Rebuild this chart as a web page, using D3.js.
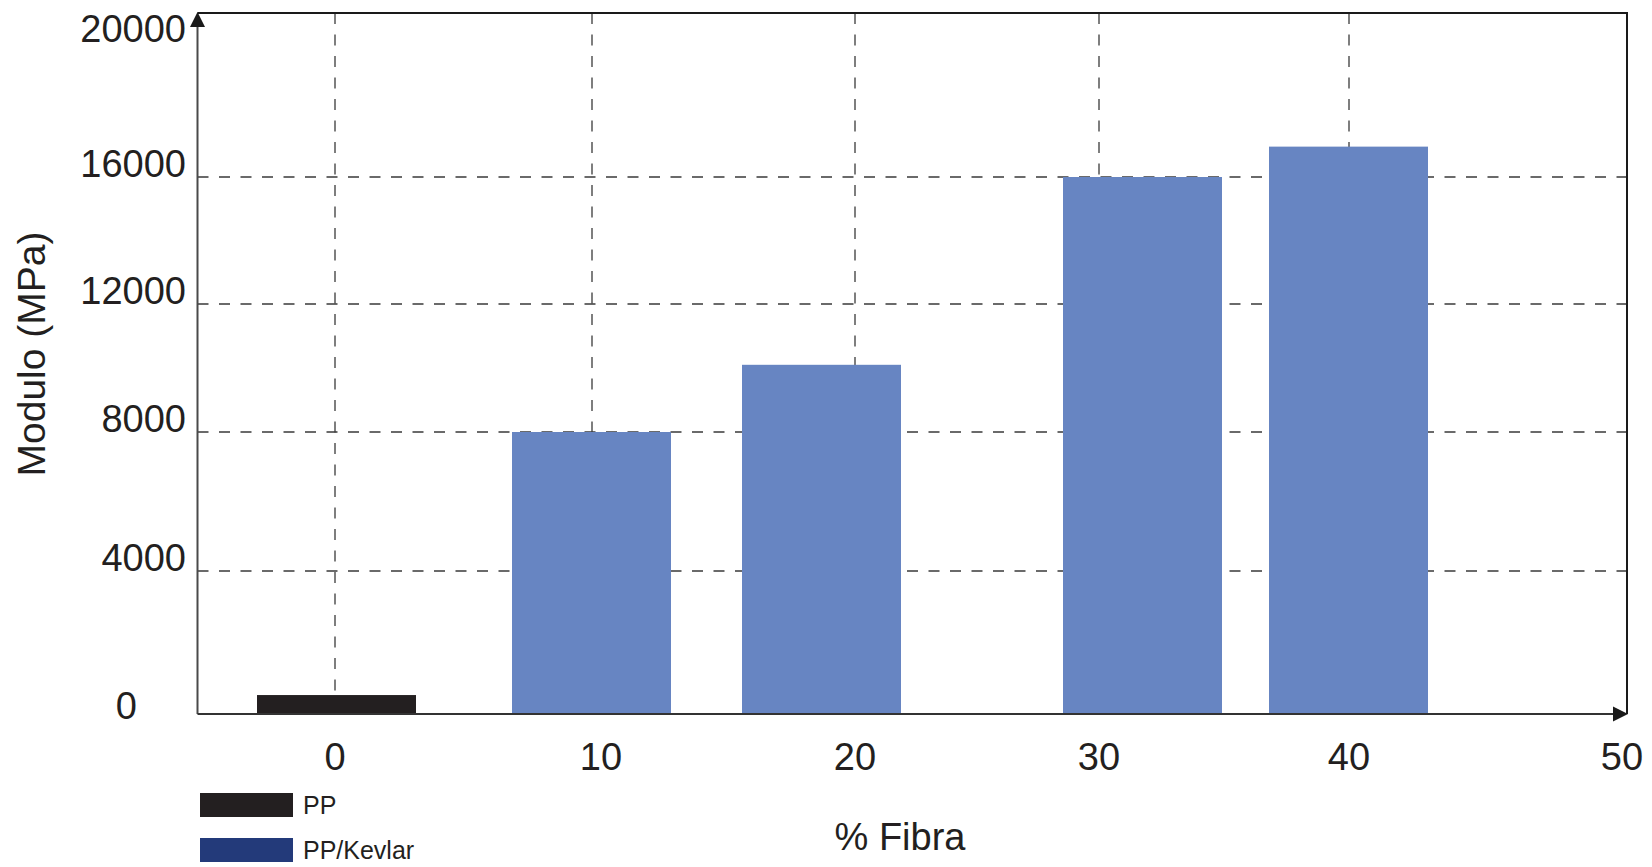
<!DOCTYPE html>
<html>
<head>
<meta charset="utf-8">
<script src="https://cdn.jsdelivr.net/npm/d3@7"></script>
<style>
  html, body { margin: 0; padding: 0; background: #fff; }
  svg { display: block; font-family: "Liberation Sans", Arial, sans-serif; }
</style>
</head>
<body>
<svg id="chart" width="1652" height="867"></svg>
<script>
// ---- data ----
const fibra = [0, 10, 20, 30, 40];
const barSeries = ["PP", "PP/Kevlar", "PP/Kevlar", "PP/Kevlar", "PP/Kevlar"];
const modulo = [530, 8000, 10100, 16000, 16900];
const xTicks = [0, 10, 20, 30, 40, 50];
const yTicks = [0, 4000, 8000, 12000, 16000, 20000];
const legendLabels = ["PP", "PP/Kevlar"];
const xTitle = "% Fibra";
const yTitle = "Modulo (MPa)";

// ---- styles / layout ----
const barColor = { "PP": "#231f20", "PP/Kevlar": "#6785c2" };
const legendColor = { "PP": "#231f20", "PP/Kevlar": "#233a7a" };
const textColor = "#231f20";
const plotL = 197.5, plotR = 1627, plotT = 13, plotB = 714;
const barWidth = 159;

const svg = d3.select("#chart");
svg.append("rect").attr("width", 1652).attr("height", 867).attr("fill", "#fff");

// scales (hand-drawn source: non-uniform spacing)
const y = d3.scaleLinear().domain(yTicks).range([714, 571, 432, 304, 177, 42]);
const xAxis = d3.scaleLinear().domain(xTicks).range([335, 592, 855, 1099, 1349, 1622]);
const xBar = d3.scaleLinear().domain(fibra).range([336.5, 591.5, 821.5, 1142.5, 1348.5]);

const dash = "11,10.5";
// horizontal gridlines
svg.append("g").selectAll("line")
  .data(yTicks.filter(t => t > 0 && t < 20000))
  .join("line")
  .attr("x1", plotL).attr("x2", plotR)
  .attr("y1", d => y(d)).attr("y2", d => y(d))
  .attr("stroke", "#3a3a3a").attr("stroke-width", 1.3)
  .attr("stroke-dasharray", dash);
// vertical gridlines
svg.append("g").selectAll("line")
  .data(xTicks.filter(t => t < 50))
  .join("line")
  .attr("x1", d => xAxis(d)).attr("x2", d => xAxis(d))
  .attr("y1", plotT).attr("y2", plotB)
  .attr("stroke", "#3a3a3a").attr("stroke-width", 1.3)
  .attr("stroke-dasharray", dash);

// bars
const bars = fibra.map((f, i) => ({ f, v: modulo[i], s: barSeries[i] }));
svg.append("g").selectAll("rect")
  .data(bars)
  .join("rect")
  .attr("x", d => xBar(d.f) - barWidth / 2)
  .attr("width", barWidth)
  .attr("y", d => y(d.v))
  .attr("height", d => y(0) - y(d.v))
  .attr("fill", d => barColor[d.s]);

// frame: top and right borders
svg.append("path")
  .attr("d", `M${plotL},${plotT}H${plotR}V${plotB}`)
  .attr("fill", "none").attr("stroke", "#1a1a1a").attr("stroke-width", 2);
// left axis
svg.append("line").attr("x1", plotL).attr("x2", plotL).attr("y1", plotT + 10).attr("y2", plotB)
  .attr("stroke", "#4a4a4a").attr("stroke-width", 2);
// bottom axis
svg.append("line").attr("x1", plotL).attr("x2", plotR - 10).attr("y1", plotB).attr("y2", plotB)
  .attr("stroke", "#333").attr("stroke-width", 2);
// arrowheads
svg.append("path")
  .attr("d", `M${plotL},${plotT - 1}L${plotL - 7.5},${plotT + 14}L${plotL + 7.5},${plotT + 14}Z`)
  .attr("fill", "#1a1a1a");
svg.append("path")
  .attr("d", `M${plotR + 1},${plotB}L${plotR - 14},${plotB - 7.5}L${plotR - 14},${plotB + 7.5}Z`)
  .attr("fill", "#1a1a1a");

// y tick labels
svg.append("g").selectAll("text")
  .data(yTicks)
  .join("text")
  .attr("x", d => d === 0 ? 137 : 186)
  .attr("y", d => y(d) + (d === 0 ? 4.5 : 0))
  .attr("text-anchor", "end")
  .attr("font-size", 38)
  .attr("fill", textColor)
  .text(d => d);

// x tick labels
svg.append("g").selectAll("text")
  .data(xTicks)
  .join("text")
  .attr("x", d => xAxis(d) + (d === 10 ? 9 : 0))
  .attr("y", 770)
  .attr("text-anchor", "middle")
  .attr("font-size", 38)
  .attr("fill", textColor)
  .text(d => d);

// axis titles
svg.append("text")
  .attr("x", 900).attr("y", 850)
  .attr("text-anchor", "middle")
  .attr("font-size", 38)
  .attr("fill", textColor)
  .text(xTitle);
svg.append("text")
  .attr("transform", "translate(45,354) rotate(-90)")
  .attr("text-anchor", "middle")
  .attr("font-size", 39)
  .attr("fill", textColor)
  .text(yTitle);

// legend
const lg = svg.append("g").selectAll("g")
  .data(legendLabels)
  .join("g")
  .attr("transform", (d, i) => `translate(200,${793 + i * 45})`);
lg.append("rect").attr("width", 93).attr("height", 24).attr("fill", d => legendColor[d]);
lg.append("text")
  .attr("x", 103).attr("y", 21)
  .attr("font-size", 25)
  .attr("fill", textColor)
  .text(d => d);
</script>
</body>
</html>
